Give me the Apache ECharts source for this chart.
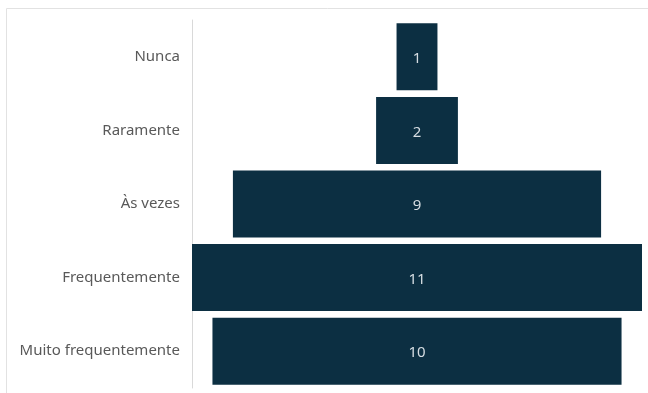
<!DOCTYPE html>
<html>
<head>
<meta charset="utf-8">
<script src="https://cdn.jsdelivr.net/npm/echarts@6/dist/echarts.min.js"></script>
<style>
  html, body { margin: 0; padding: 0; background: #fff; }
  #main { width: 648px; height: 393px; }
</style>
</head>
<body>
<div id="main"></div>
<script>
var categories = ['Nunca', 'Raramente', 'Às vezes', 'Frequentemente', 'Muito frequentemente'];
var values = [1, 2, 9, 11, 10];
var maxValue = 11;

var chart = echarts.init(document.getElementById('main'));

// barras centradas (funil em degraus)
function renderItem(params, api) {
  var cat = api.value(0);
  var v = api.value(1);
  var left = api.coord([maxValue / 2 - v / 2, cat]);
  var right = api.coord([maxValue / 2 + v / 2, cat]);
  var band = api.size([0, 1])[1];
  var h = band * 0.91;
  return {
    type: 'rect',
    shape: { x: left[0], y: left[1] - h / 2, width: right[0] - left[0], height: h },
    style: { fill: '#0c2f42' },
    textContent: {
      style: { text: String(v), fill: '#d6dde2', fontSize: 15, fontFamily: 'Noto Sans' }
    },
    textConfig: { position: 'inside', offset: [0, 2] }
  };
}

chart.setOption({
  animation: false,
  textStyle: { fontFamily: 'Noto Sans' },
  graphic: [{
    type: 'rect',
    shape: { x: 6.5, y: 8.5, width: 700, height: 500 },
    style: { fill: 'none', stroke: '#e2e2e2', lineWidth: 1 },
    silent: true
  }],
  grid: { left: 192, right: 6, top: 20, bottom: 5 },
  xAxis: {
    type: 'value', min: 0, max: maxValue,
    show: false
  },
  yAxis: {
    type: 'category',
    inverse: true,
    data: categories,
    axisLine: { show: true, lineStyle: { color: '#d9d9d9', width: 1 } },
    axisTick: { show: false },
    axisLabel: { color: '#595959', fontSize: 15, margin: 12, lineHeight: 22, padding: [6, 0, 0, 0] }
  },
  series: [{
    type: 'custom',
    renderItem: renderItem,
    encode: { x: 1, y: 0 },
    data: values.map(function (v, i) { return [i, v]; })
  }]
});
</script>
</body>
</html>
